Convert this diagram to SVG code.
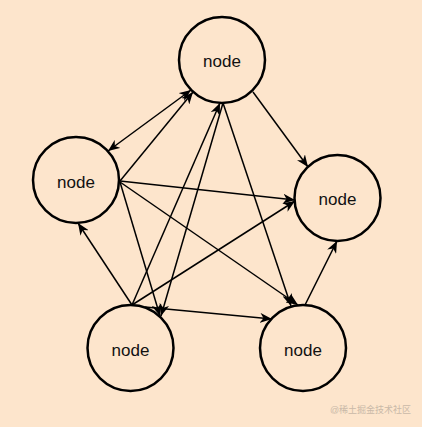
<svg xmlns="http://www.w3.org/2000/svg" width="422" height="427" viewBox="0 0 422 427">
<style>
.n circle{fill:none;stroke:#000;stroke-width:2.5}
.n text{font-family:"Liberation Sans",Arial,sans-serif;font-size:17px;fill:#111;text-anchor:middle}
#edges line{stroke:#000;stroke-width:1.5;marker-end:url(#ah)}
.wm{font-family:"Liberation Sans","Noto Sans CJK SC",sans-serif;font-size:9.5px;fill:#c9b9a8}
</style>
<defs>
<marker id="ah" markerUnits="userSpaceOnUse" viewBox="0 0 12 10" refX="12" refY="5" markerWidth="12" markerHeight="10" orient="auto-start-reverse">
<path d="M0,0 L12,5 L0,10 L3.5,5 Z" fill="#000"/>
</marker>
</defs>
<rect width="422" height="427" fill="#FDE5CC"/>
<g id="edges">
<line x1="191" y1="90" x2="108" y2="151" marker-start="url(#ah)"/>
<line x1="120" y1="181" x2="193" y2="92"/>
<line x1="120" y1="181" x2="295" y2="200"/>
<line x1="120" y1="182" x2="298" y2="305"/>
<line x1="120" y1="182" x2="160" y2="316"/>
<line x1="253" y1="92" x2="308" y2="167"/>
<line x1="223" y1="103" x2="291" y2="306"/>
<line x1="223" y1="103" x2="161" y2="316"/>
<line x1="132" y1="305" x2="220" y2="103"/>
<line x1="132" y1="305" x2="78" y2="223"/>
<line x1="132" y1="305" x2="295" y2="201"/>
<line x1="145" y1="307" x2="272" y2="319"/>
<line x1="305" y1="305" x2="337" y2="241"/>
</g>
<g id="node-top" class="n"><circle cx="222" cy="60" r="43"/><text x="222" y="67">node</text></g>
<g id="node-left" class="n"><circle cx="76" cy="180" r="43"/><text x="76" y="188">node</text></g>
<g id="node-right" class="n"><circle cx="337.5" cy="198" r="43"/><text x="337.5" y="205">node</text></g>
<g id="node-bottom-left" class="n"><circle cx="130.5" cy="348" r="43"/><text x="130.5" y="356">node</text></g>
<g id="node-bottom-right" class="n"><circle cx="303" cy="348" r="43"/><text x="303" y="356">node</text></g>
<text class="wm" x="330" y="413" textLength="81" lengthAdjust="spacingAndGlyphs">@稀土掘金技术社区</text>
</svg>
